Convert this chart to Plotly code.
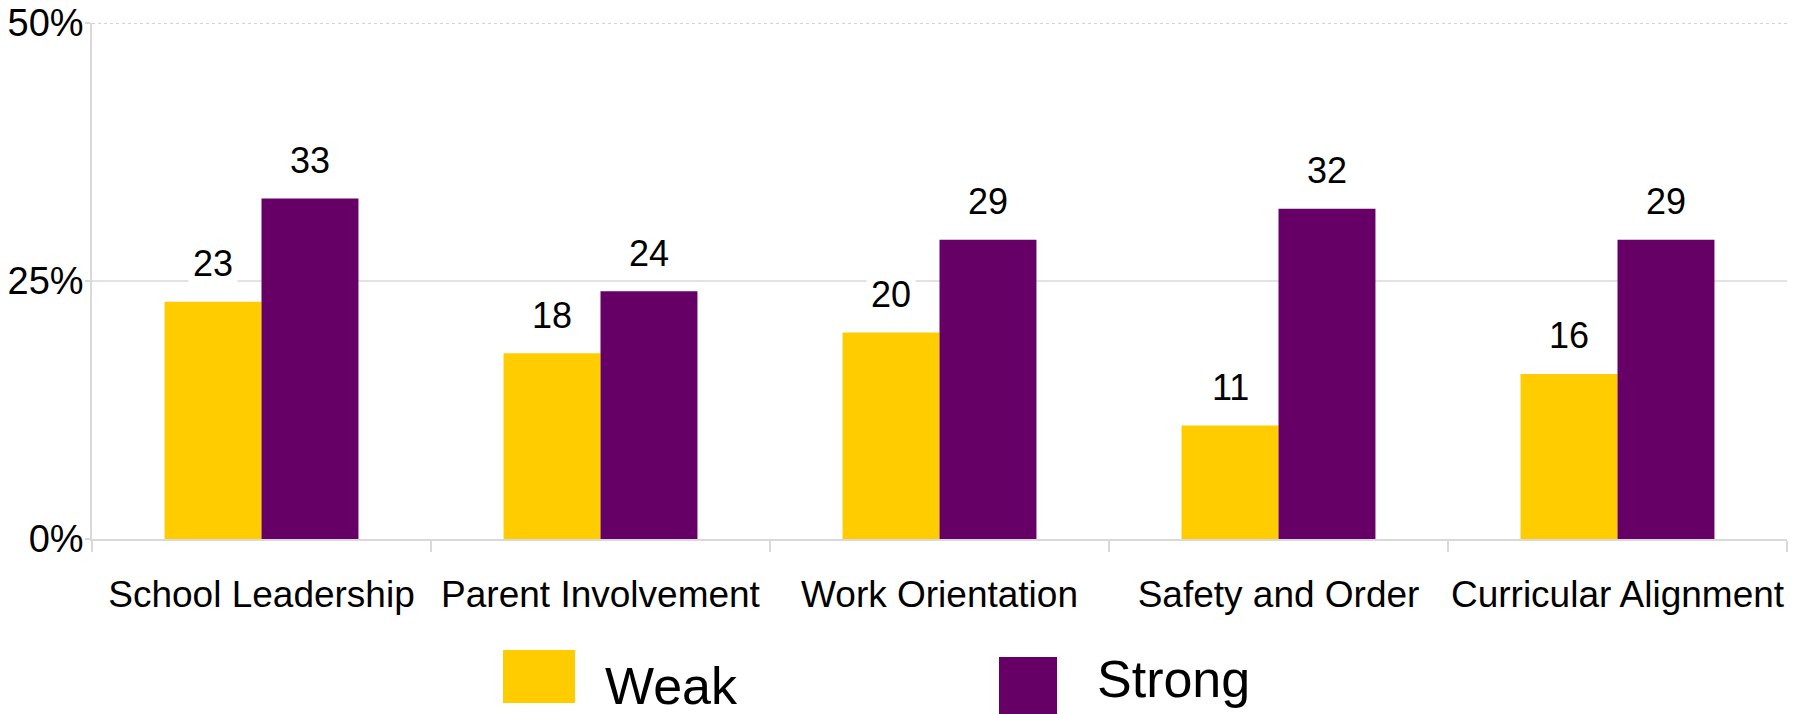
import plotly.graph_objects as go

# Survey results: share of schools rated weak vs strong on each essential support
categories = ["School Leadership", "Parent Involvement", "Work Orientation",
              "Safety and Order", "Curricular Alignment"]
weak = [23, 18, 20, 11, 16]
strong = [33, 24, 29, 32, 29]
y_ticks = [0, 25, 50]

WEAK_COLOR = "#FFCC00"
STRONG_COLOR = "#660066"
GRID_COLOR = "#d9d9d9"
FONT = "Liberation Sans, Arial, sans-serif"

W, H = 1809, 714
margin = dict(l=92, r=22, t=23, b=175)
plot_w = W - margin["l"] - margin["r"]
plot_h = H - margin["t"] - margin["b"]
bargap = 0.428
bar_px = plot_w / len(categories) * (1 - bargap) / 2

fig = go.Figure()
fig.add_trace(go.Bar(name="Weak", x=categories, y=weak, marker_color=WEAK_COLOR,
                     marker_line_width=0))
fig.add_trace(go.Bar(name="Strong", x=categories, y=strong, marker_color=STRONG_COLOR,
                     marker_line_width=0))

# value labels above each bar, on a white box that interrupts the gridline
annotations = []
for values, shift in ((weak, -bar_px / 2), (strong, bar_px / 2)):
    for cat, v in zip(categories, values):
        annotations.append(dict(
            x=cat, y=v, xref="x", yref="y", text=str(v), showarrow=False,
            xshift=shift, yshift=38, yanchor="middle", xanchor="center",
            bgcolor="white", borderpad=4,
            font=dict(family=FONT, size=36, color="black")))

# gridlines above zero
shapes = []
for t in y_ticks[1:]:
    top = t == y_ticks[-1]
    shapes.append(dict(type="line", xref="paper", yref="y", x0=0, x1=1, y0=t, y1=t,
                       layer="below",
                       line=dict(color="#c4c4c4" if top else GRID_COLOR,
                                 width=1.5, dash="dot" if top else "solid")))

# legend: swatches and labels under the plot
def px_x(px):
    return (px - margin["l"]) / plot_w

def px_y(py):
    return (H - margin["b"] - py) / plot_h

legend_items = [
    ("Weak", WEAK_COLOR, (503, 650, 575, 703), (603, 686)),
    ("Strong", STRONG_COLOR, (999, 657, 1057, 714), (1095, 679)),
]
for label, color, (x0, y0, x1, y1), (tx, ty) in legend_items:
    shapes.append(dict(type="rect", xref="paper", yref="paper",
                       x0=px_x(x0), x1=px_x(x1), y0=px_y(y1), y1=px_y(y0),
                       fillcolor=color, line_width=0))
    annotations.append(dict(x=px_x(tx), y=px_y(ty), xref="paper", yref="paper",
                            text=label, showarrow=False, xanchor="left", yanchor="middle",
                            font=dict(family=FONT, size=52, color="black")))

fig.update_layout(
    width=W, height=H, margin=margin,
    paper_bgcolor="white", plot_bgcolor="white",
    barmode="group", bargap=bargap, bargroupgap=0,
    showlegend=False,
    annotations=annotations, shapes=shapes,
    font=dict(family=FONT, color="black"),
)
fig.update_xaxes(
    showline=True, linecolor=GRID_COLOR, linewidth=1.5,
    ticks="outside", tickson="boundaries", ticklen=11, tickcolor=GRID_COLOR,
    tickwidth=1.5, showgrid=False, tickangle=0, automargin=False,
    tickfont=dict(family=FONT, size=37, color="black"),
    ticklabelstandoff=22,
)
fig.update_yaxes(
    range=[0, 50], tickmode="array", tickvals=y_ticks,
    ticktext=[f"{t}%" for t in y_ticks], automargin=False,
    showline=True, linecolor=GRID_COLOR, linewidth=1.5,
    ticks="outside", ticklen=5, tickcolor=GRID_COLOR, tickwidth=1.5,
    showgrid=False, zeroline=False, ticklabelstandoff=-6,
    tickfont=dict(family=FONT, size=38, color="black"),
)

fig.write_html("out.html")
